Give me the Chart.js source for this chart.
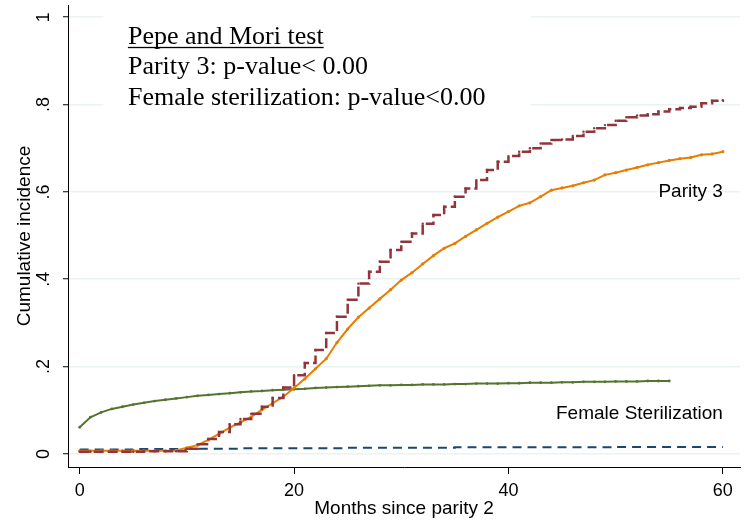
<!DOCTYPE html>
<html>
<head>
<meta charset="utf-8">
<script src="https://cdn.jsdelivr.net/npm/chart.js@4.4.1/dist/chart.umd.min.js"></script>
<style>
  html, body { margin: 0; padding: 0; background: #fff; }
</style>
</head>
<body>
<canvas id="myChart" width="750" height="521"></canvas>
<script>
// months since parity 2 (x values of each estimate)
var months = [0, 1, 2, 3, 4, 5, 6, 7, 8, 9, 10, 11, 12, 13, 14, 15, 16, 17, 18, 19, 20,
    21, 22, 23, 24, 25, 26, 27, 28, 29, 30, 31, 32, 33, 34, 35, 36, 37, 38, 39, 40,
    41, 42, 43, 44, 45, 46, 47, 48, 49, 50, 51, 52, 53, 54, 55, 56, 57, 58, 59, 60];

// Parity 3, step estimate (dashed maroon)
var parity3Step = [0.005, 0.005, 0.005, 0.005, 0.005, 0.005, 0.006, 0.006, 0.006, 0.006,
    0.012, 0.022, 0.034, 0.050, 0.068, 0.080, 0.092, 0.108, 0.128, 0.152,
    0.180, 0.208, 0.238, 0.277, 0.314, 0.353, 0.390, 0.417, 0.440, 0.467,
    0.486, 0.505, 0.527, 0.547, 0.566, 0.589, 0.608, 0.627, 0.650, 0.669,
    0.682, 0.692, 0.700, 0.711, 0.719, 0.720, 0.728, 0.738, 0.746, 0.753,
    0.763, 0.771, 0.775, 0.778, 0.784, 0.789, 0.792, 0.795, 0.803, 0.809, 0.810];

// Parity 3, smooth estimate (orange)
var parity3 = [0.007, 0.007, 0.007, 0.007, 0.007, 0.007, 0.007, 0.007, 0.007, 0.008,
    0.014, 0.020, 0.032, 0.046, 0.060, 0.072, 0.085, 0.101, 0.116, 0.131,
    0.151, 0.172, 0.195, 0.218, 0.255, 0.286, 0.313, 0.334, 0.355, 0.376,
    0.398, 0.415, 0.435, 0.454, 0.471, 0.482, 0.498, 0.513, 0.528, 0.542,
    0.555, 0.568, 0.575, 0.589, 0.604, 0.609, 0.614, 0.621, 0.627, 0.639,
    0.644, 0.650, 0.656, 0.662, 0.667, 0.672, 0.676, 0.679, 0.685, 0.687, 0.692];

// Female sterilization (green), observed up to month 55
var sterilization = [0.061, 0.084, 0.095, 0.103, 0.108, 0.113, 0.117, 0.121, 0.124, 0.127,
    0.130, 0.133, 0.135, 0.137, 0.139, 0.141, 0.143, 0.144, 0.146, 0.147,
    0.148, 0.149, 0.151, 0.152, 0.153, 0.154, 0.155, 0.156, 0.157, 0.157,
    0.158, 0.158, 0.159, 0.159, 0.159, 0.160, 0.160, 0.161, 0.161, 0.161,
    0.162, 0.162, 0.163, 0.163, 0.163, 0.164, 0.164, 0.165, 0.165, 0.165,
    0.166, 0.166, 0.166, 0.167, 0.167, 0.167];

// Female sterilization, comparison curve (dashed navy)
var sterilMonths = [0, 5, 10, 15, 20, 25, 30, 35, 40, 45, 50, 55, 60];
var sterilizationStep = [0.010, 0.011, 0.012, 0.013, 0.013, 0.014, 0.014, 0.015, 0.015, 0.015, 0.016, 0.016, 0.016];

var xTicks = [0, 20, 40, 60];
var yTicks = [0, 0.2, 0.4, 0.6, 0.8, 1];
var yTickLabels = ['0', '.2', '.4', '.6', '.8', '1'];

var noteLines = ['Pepe and Mori test', 'Parity 3: p-value< 0.00', 'Female sterilization: p-value<0.00'];
var curveLabels = ['Parity 3', 'Female Sterilization'];

function pairs(xs, ys) {
    return ys.map(function(v, i) { return {x: xs[i], y: v}; });
}

var SANS = '"Liberation Sans", Arial, sans-serif';
var SERIF = '"Liberation Serif", "Times New Roman", serif';

var notes = {
    id: 'notes',
    beforeDatasetsDraw: function(chart) {
        var ctx = chart.ctx, xs = chart.scales.x, ys = chart.scales.y;
        var bx0 = xs.getPixelForValue(2.2), bx1 = xs.getPixelForValue(42.1);
        var by0 = ys.getPixelForValue(1.03), by1 = ys.getPixelForValue(0.775);
        ctx.save();
        // white box of the text, hides the gridlines
        ctx.fillStyle = '#fff';
        ctx.fillRect(bx0, by0, bx1 - bx0, by1 - by0);
        ctx.fillStyle = '#000';
        ctx.font = '26px ' + SERIF;
        ctx.textAlign = 'left';
        ctx.textBaseline = 'alphabetic';
        var tx = xs.getPixelForValue(4.5), ty = ys.getPixelForValue(0.939);
        noteLines.forEach(function(t, i) {
            ctx.fillText(t, tx, ty + i * 30.5);
        });
        var w = ctx.measureText(noteLines[0]).width;
        ctx.fillRect(tx, ty + 3, w, 1.3);
        ctx.restore();
    },
    afterDatasetsDraw: function(chart) {
        var ctx = chart.ctx, xs = chart.scales.x, ys = chart.scales.y;
        ctx.save();
        ctx.fillStyle = '#000';
        ctx.font = '19px ' + SANS;
        ctx.textAlign = 'right';
        ctx.textBaseline = 'middle';
        ctx.fillText(curveLabels[0], xs.getPixelForValue(60), ys.getPixelForValue(0.60));
        ctx.fillText(curveLabels[1], xs.getPixelForValue(60), ys.getPixelForValue(0.092));
        ctx.restore();
    }
};

var ctx = document.getElementById('myChart').getContext('2d');
var chart = new Chart(ctx, {
    type: 'line',
    data: {
        datasets: [{
            label: 'Parity 3 (step)',
            data: pairs(months, parity3Step),
            borderColor: '#90353b',
            backgroundColor: '#90353b',
            borderWidth: 2.5,
            borderDash: [10, 4],
            stepped: true,
            pointRadius: 1.2,
            pointBorderWidth: 0
        }, {
            label: 'Parity 3',
            data: pairs(months, parity3),
            borderColor: '#e87d00',
            backgroundColor: '#e87d00',
            borderWidth: 2,
            pointRadius: 1.6,
            pointBorderWidth: 0
        }, {
            label: 'Female Sterilization',
            data: pairs(months, sterilization),
            borderColor: '#55752f',
            backgroundColor: '#55752f',
            borderWidth: 2,
            pointRadius: 1.4,
            pointBorderWidth: 0
        }, {
            label: 'Female Sterilization (step)',
            data: pairs(sterilMonths, sterilizationStep),
            borderColor: '#1a476f',
            backgroundColor: '#1a476f',
            borderWidth: 2,
            borderDash: [9, 6],
            stepped: true,
            pointRadius: 0
        }]
    },
    options: {
        responsive: false,
        animation: false,
        devicePixelRatio: 1,
        layout: { padding: { top: 5, right: 10, bottom: 0, left: 0 } },
        plugins: {
            legend: { display: false },
            tooltip: { enabled: false }
        },
        scales: {
            x: {
                type: 'linear',
                min: -1.09,
                max: 61.6,
                afterBuildTicks: function(s) { s.ticks = xTicks.map(function(v) { return {value: v}; }); },
                afterFit: function(s) { s.height = 54; s.paddingLeft = 0; s.paddingRight = 0; },
                grid: { drawOnChartArea: false, drawTicks: true, tickLength: 7, tickColor: '#000', tickWidth: 1 },
                border: { display: true, color: '#000', width: 1 },
                ticks: { color: '#000', padding: 6, maxRotation: 0, font: { family: SANS, size: 18 } },
                title: { display: true, text: 'Months since parity 2', color: '#000',
                         padding: { top: 0, bottom: 1 }, font: { family: SANS, size: 19 } }
            },
            y: {
                type: 'linear',
                min: -0.03,
                max: 1.028,
                afterBuildTicks: function(s) { s.ticks = yTicks.map(function(v) { return {value: v}; }); },
                afterFit: function(s) { s.width = 68; s.paddingTop = 0; s.paddingBottom = 0; },
                grid: { color: '#eaf2f3', lineWidth: 1.5, drawTicks: true, tickLength: 5, tickColor: '#000', tickWidth: 1 },
                border: { display: true, color: '#000', width: 1 },
                ticks: {
                    color: '#000', padding: 11.5, minRotation: 90, maxRotation: 90, crossAlign: 'center',
                    font: { family: SANS, size: 18 },
                    callback: function(v, i) { return yTickLabels[i]; }
                },
                title: { display: true, text: 'Cumulative incidence', color: '#000',
                         padding: { top: 13.5, bottom: 0 }, font: { family: SANS, size: 19 } }
            }
        }
    },
    plugins: [notes]
});
</script>
</body>
</html>
